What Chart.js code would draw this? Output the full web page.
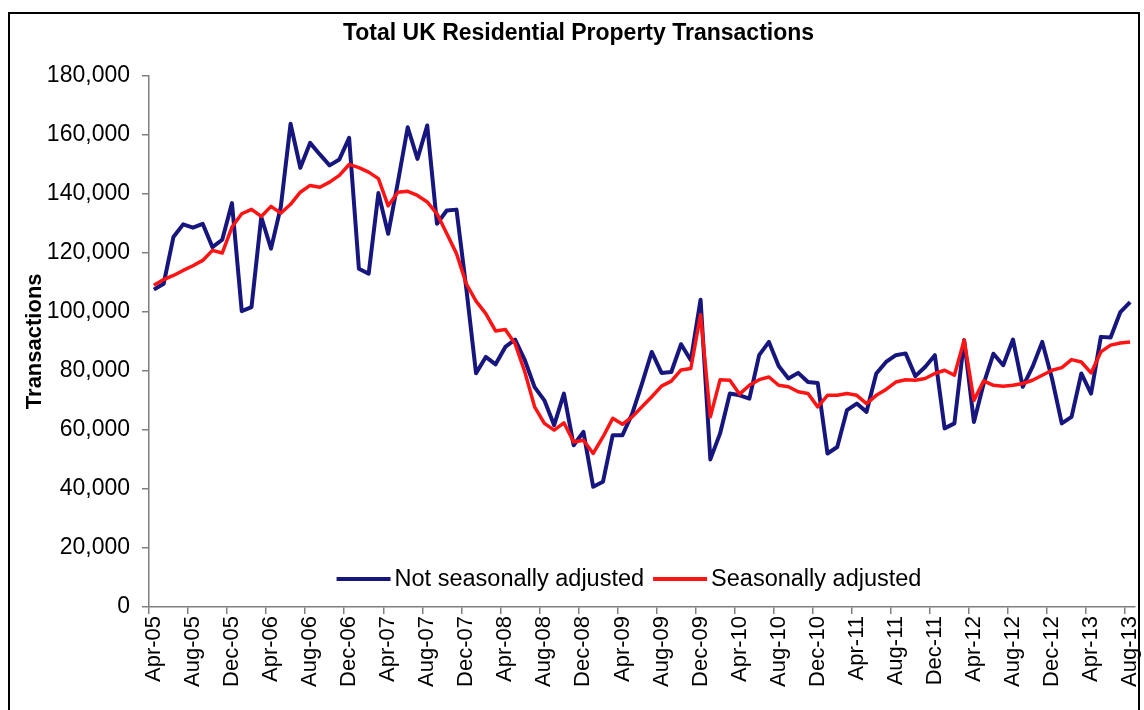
<!DOCTYPE html>
<html><head><meta charset="utf-8">
<script src="https://cdn.jsdelivr.net/npm/chart.js@4.4.0/dist/chart.umd.min.js"></script>
<style>html,body{margin:0;padding:0;background:#fff;} #wrap{position:relative;width:1144px;height:710px;}</style>
</head><body><div id="wrap"><canvas id="c" width="1144" height="710"></canvas></div>
<script>
const months = [
 'Apr-05','May-05','Jun-05','Jul-05','Aug-05','Sep-05','Oct-05','Nov-05','Dec-05',
 'Jan-06','Feb-06','Mar-06','Apr-06','May-06','Jun-06','Jul-06','Aug-06','Sep-06','Oct-06','Nov-06','Dec-06',
 'Jan-07','Feb-07','Mar-07','Apr-07','May-07','Jun-07','Jul-07','Aug-07','Sep-07','Oct-07','Nov-07','Dec-07',
 'Jan-08','Feb-08','Mar-08','Apr-08','May-08','Jun-08','Jul-08','Aug-08','Sep-08','Oct-08','Nov-08','Dec-08',
 'Jan-09','Feb-09','Mar-09','Apr-09','May-09','Jun-09','Jul-09','Aug-09','Sep-09','Oct-09','Nov-09','Dec-09',
 'Jan-10','Feb-10','Mar-10','Apr-10','May-10','Jun-10','Jul-10','Aug-10','Sep-10','Oct-10','Nov-10','Dec-10',
 'Jan-11','Feb-11','Mar-11','Apr-11','May-11','Jun-11','Jul-11','Aug-11','Sep-11','Oct-11','Nov-11','Dec-11',
 'Jan-12','Feb-12','Mar-12','Apr-12','May-12','Jun-12','Jul-12','Aug-12','Sep-12','Oct-12','Nov-12','Dec-12',
 'Jan-13','Feb-13','Mar-13','Apr-13','May-13','Jun-13','Jul-13','Aug-13'
];
const notSeasonallyAdjusted = [
 107500,109500,125300,129600,128500,129800,121900,124400,136800,
 100200,101600,132100,121400,135500,163700,148800,157200,153300,149600,151600,158900,
 114600,112900,140200,126400,144000,162500,151800,163100,129800,134300,134600,108000,
 79200,84700,82200,88100,90600,83600,74500,70000,61600,72300,54800,59300,
 40700,42400,58200,58200,65500,75700,86400,79300,79600,89000,83600,104100,
 50000,58800,72300,71700,70600,85300,89800,81600,77400,79300,76200,75900,
 52000,54200,66700,68900,66100,79100,83000,85300,85900,78200,81300,85300,
 60500,62200,90400,62700,75700,85800,81900,90600,74600,81300,89800,77400,
 62200,64400,79100,72300,91500,91300,99900,103300
];
const seasonallyAdjusted = [
 109000,110900,112300,114000,115600,117400,120800,119900,128700,
 133200,134700,132300,135700,133400,136400,140500,142800,142200,143900,146200,149900,
 148800,147300,145100,135900,140500,140800,139400,137200,133200,126500,119700,109500,
 103600,99400,93500,94000,89200,79600,67800,62200,59900,62400,55900,56500,
 52000,57600,63900,61900,64400,67800,71200,74800,76500,80300,80800,99000,
 64400,77000,76800,72100,75100,77000,77900,75100,74600,72900,72300,67800,
 71700,71700,72300,71700,68900,71700,73700,76200,77000,76800,77400,79100,
 80200,78500,90400,70000,76600,75100,74800,75100,75700,76800,78500,80200,
 81100,83800,83000,79300,86400,88700,89400,89800
];
const seriesNames = ['Not seasonally adjusted', 'Seasonally adjusted'];
const seriesColors = ['#16167e', '#ff1414'];
const titleText = 'Total UK Residential Property Transactions';
const yAxisTitle = 'Transactions';
const yMin = 0, yMax = 180000, yStep = 20000;
const labelEvery = 4;

const FONT = '"Liberation Sans", Arial, sans-serif';

const framePlugin = {
  id: 'frame',
  beforeDraw(chart) {
    const ctx = chart.ctx;
    ctx.save();
    ctx.fillStyle = '#fff';
    ctx.fillRect(0, 0, chart.width, chart.height);
    ctx.strokeStyle = '#000';
    ctx.lineWidth = 2;
    ctx.strokeRect(9, 13, 1130, 720);
    ctx.restore();
  }
};

const insideLegend = {
  id: 'insideLegend',
  afterDatasetsDraw(chart) {
    const ctx = chart.ctx;
    const ds = chart.data.datasets;
    ctx.save();
    ctx.font = '23.5px ' + FONT;
    const lineLen = 54, gapText = 4, gapItem = 9;
    let total = 0;
    ds.forEach((d, i) => { total += lineLen + gapText + ctx.measureText(d.label).width + (i ? gapItem : 0); });
    let x = 629 - total / 2;
    const y = 579;
    ctx.textBaseline = 'middle';
    ctx.textAlign = 'left';
    ds.forEach((d, i) => {
      if (i) x += gapItem;
      ctx.strokeStyle = d.borderColor;
      ctx.lineWidth = 4;
      ctx.beginPath(); ctx.moveTo(x, y); ctx.lineTo(x + lineLen, y); ctx.stroke();
      x += lineLen + gapText;
      ctx.fillStyle = '#000';
      ctx.fillText(d.label, x, y + 1);
      x += ctx.measureText(d.label).width;
    });
    ctx.restore();
  }
};

new Chart(document.getElementById('c'), {
  type: 'line',
  data: {
    labels: months,
    datasets: [
      { label: seriesNames[0], data: notSeasonallyAdjusted, borderColor: seriesColors[0], borderWidth: 4, pointRadius: 0, tension: 0, order: 2, borderJoinStyle: 'round' },
      { label: seriesNames[1], data: seasonallyAdjusted, borderColor: seriesColors[1], borderWidth: 3.5, pointRadius: 0, tension: 0, order: 1, borderJoinStyle: 'round' }
    ]
  },
  options: {
    responsive: false,
    animation: false,
    devicePixelRatio: 1,
    layout: { padding: { left: 22, right: 9, top: 0, bottom: 0 } },
    plugins: {
      legend: { display: false },
      tooltip: { enabled: false },
      title: {
        display: true, text: titleText, color: '#000',
        font: { family: FONT, size: 23, weight: 'bold' },
        padding: { top: 20, bottom: 28 }
      }
    },
    scales: {
      x: {
        type: 'category',
        offset: true,
        grid: {
          offset: true, drawOnChartArea: false, tickLength: 7, lineWidth: 1.5,
          color: c => (c.index % labelEvery === 0 ? '#7f7f7f' : 'rgba(0,0,0,0)')
        },
        border: { color: '#7f7f7f', width: 1.5 },
        ticks: {
          autoSkip: false, maxRotation: 90, minRotation: 90, padding: 2,
          color: '#000', font: { family: FONT, size: 22 },
          callback: function(v, i) { return i % labelEvery === 0 ? this.getLabelForValue(v) : ''; }
        },
        afterFit: s => { s.height = 103; s.paddingRight = 0; s.paddingLeft = 0; }
      },
      y: {
        min: yMin, max: yMax,
        grid: { drawOnChartArea: false, tickLength: 7, color: '#7f7f7f', lineWidth: 1.5 },
        border: { color: '#7f7f7f', width: 1.5 },
        ticks: {
          stepSize: yStep, padding: 12, color: '#000', font: { family: FONT, size: 23 },
          callback: v => v.toLocaleString('en-US')
        },
        title: {
          display: true, text: yAxisTitle, color: '#000',
          font: { family: FONT, size: 22, weight: 'bold' }, padding: { top: 0, bottom: 0 }
        },
        afterFit: s => { s.width = 127; }
      }
    }
  },
  plugins: [framePlugin, insideLegend]
});
</script>
</body></html>
